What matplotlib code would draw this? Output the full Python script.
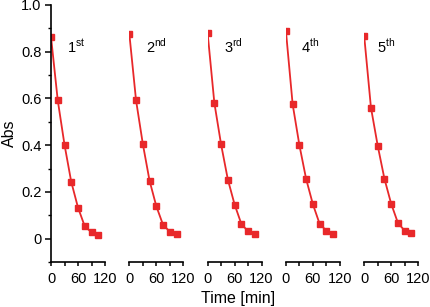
import numpy as np
import matplotlib.pyplot as plt
from matplotlib.ticker import MultipleLocator, FixedLocator

plt.rcParams['font.family'] = 'Liberation Sans'
plt.rcParams['mathtext.fontset'] = 'custom'
plt.rcParams['mathtext.rm'] = 'Liberation Sans'

# time points of each run (min)
time = [0, 15, 30, 45, 60, 75, 90, 105]

# absorbance for the five reuse cycles
run1 = [0.864, 0.592, 0.402, 0.243, 0.133, 0.053, 0.027, 0.017]
run2 = [0.878, 0.592, 0.406, 0.248, 0.139, 0.059, 0.030, 0.018]
run3 = [0.881, 0.581, 0.403, 0.253, 0.146, 0.063, 0.031, 0.020]
run4 = [0.890, 0.575, 0.400, 0.255, 0.147, 0.063, 0.034, 0.020]
run5 = [0.867, 0.561, 0.398, 0.256, 0.149, 0.067, 0.034, 0.023]
runs = [run1, run2, run3, run4, run5]
labels = [r'1$^{\rm st}$', r'2$^{\rm nd}$', r'3$^{\rm rd}$', r'4$^{\rm th}$', r'5$^{\rm th}$']

red = '#e8282a'
W, H = 430, 307
fig = plt.figure(figsize=(W / 100, H / 100), dpi=100)

label_x = [35, 37, 36, 33, 28]
for i, run in enumerate(runs):
    left = 51 + i * 78.3
    ax = fig.add_axes([left / W, 45 / H, 54 / W, 257 / H])
    ax.plot(time, run, '-', color=red, lw=1.3, marker='s', ms=4.5,
            mec=red, mfc=red)
    ax.set_xlim(0, 120)
    ax.set_ylim(-0.1, 1.0)
    ax.text(label_x[i], 0.794, labels[i], fontsize=10.5)
    for s in ['top', 'right']:
        ax.spines[s].set_visible(False)
    ax.spines['bottom'].set_linewidth(1.2)
    ax.set_xticks([0, 60, 120])
    ax.set_xticklabels(['0', '60', '120'])
    ax.xaxis.set_minor_locator(FixedLocator([30, 90]))
    ax.tick_params(axis='x', which='both', direction='out', length=3, width=1.1,
                   labelsize=10.5, pad=4)
    if i == 0:
        ax.spines['left'].set_linewidth(1.2)
        ax.set_yticks([0, 0.2, 0.4, 0.6, 0.8, 1.0])
        ax.set_yticklabels(['0', '0.2', '0.4', '0.6', '0.8', '1.0'])
        ax.yaxis.set_minor_locator(MultipleLocator(0.1))
        ax.tick_params(axis='y', which='major', direction='out', length=4,
                       width=1.1, labelsize=10.5, pad=3)
        ax.tick_params(axis='y', which='minor', direction='out', length=2.5,
                       width=1.0)
        ax.set_ylabel('Abs', fontsize=11.5, labelpad=3)
    else:
        ax.spines['left'].set_visible(False)
        ax.set_yticks([])
        ax.yaxis.set_minor_locator(FixedLocator([]))

fig.text(238 / W, 1 - 298 / H, 'Time [min]', ha='center', va='center', fontsize=11.5)

plt.savefig('out.png', dpi=100)
